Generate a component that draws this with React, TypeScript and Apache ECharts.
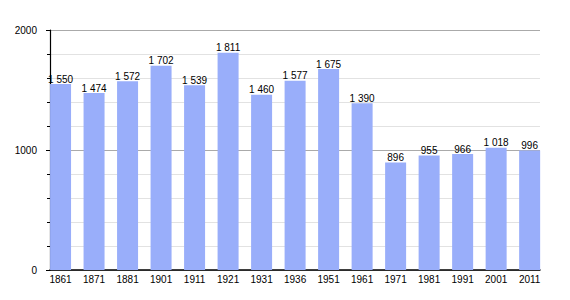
import React, { useEffect, useRef } from "react";
import * as echarts from "echarts";

const years = ["1861", "1871", "1881", "1901", "1911", "1921", "1931", "1936", "1951", "1961", "1971", "1981", "1991", "2001", "2011"];
const population = [1550, 1474, 1572, 1702, 1539, 1811, 1460, 1577, 1675, 1390, 896, 955, 966, 1018, 996];
const yTicks = [0, 1000, 2000];

const fmt = (v: number) => {
  const s = String(v);
  return s.length > 3 ? s.slice(0, s.length - 3) + " " + s.slice(-3) : s;
};

export default function App() {
  const ref = useRef<HTMLDivElement>(null);
  useEffect(() => {
    if (!ref.current) return;
    const chart = echarts.init(ref.current, undefined, { renderer: "svg" });
    const font = "Liberation Sans";
    chart.setOption({
      animation: false,
      backgroundColor: "#ffffff",
      grid: [
        { left: 50, top: 30, width: 490, height: 240 },
        { left: 43.8, top: 30, width: 502.6, height: 240 },
      ],
      xAxis: [
        {
          type: "value",
          gridIndex: 0,
          min: 0,
          max: 1,
          axisLine: { show: true, lineStyle: { color: "#000", width: 1.5 } },
          axisTick: { show: false },
          axisLabel: { show: false },
          splitLine: { show: false },
        },
        {
          type: "category",
          gridIndex: 1,
          data: years,
          axisLine: { show: false },
          axisTick: { show: false },
          axisLabel: { color: "#000", fontFamily: font, fontSize: 10, margin: 4 },
          splitLine: { show: false },
        },
      ],
      yAxis: [
        {
          type: "value",
          gridIndex: 0,
          min: yTicks[0],
          max: yTicks[yTicks.length - 1],
          interval: 1000,
          axisLine: { show: true, lineStyle: { color: "#000", width: 1.2 } },
          axisTick: { show: true, length: 4, lineStyle: { color: "#000" } },
          minorTick: { show: true, splitNumber: 5, length: 3, lineStyle: { color: "#000" } },
          axisLabel: {
            color: "#000",
            fontFamily: font,
            fontSize: 10,
            margin: 13,
            formatter: (v: number) => String(v),
          },
          splitLine: { show: true, lineStyle: { color: "#aaaaaa", width: 1 } },
          minorSplitLine: { show: true, lineStyle: { color: "#e2e2e2", width: 1 } },
        },
        {
          type: "value",
          gridIndex: 1,
          min: 0,
          max: 2000,
          show: false,
        },
      ],
      series: [
        {
          type: "bar",
          xAxisIndex: 1,
          yAxisIndex: 1,
          data: population,
          barWidth: 21,
          itemStyle: { color: "#99aefa" },
          label: {
            show: true,
            position: "top",
            distance: 0,
            color: "#000",
            fontFamily: font,
            fontSize: 10,
            formatter: (p: any) => fmt(p.value),
          },
        },
      ],
    });
    return () => chart.dispose();
  }, []);
  return <div ref={ref} style={{ width: 570, height: 300, margin: -8 }} />;
}
